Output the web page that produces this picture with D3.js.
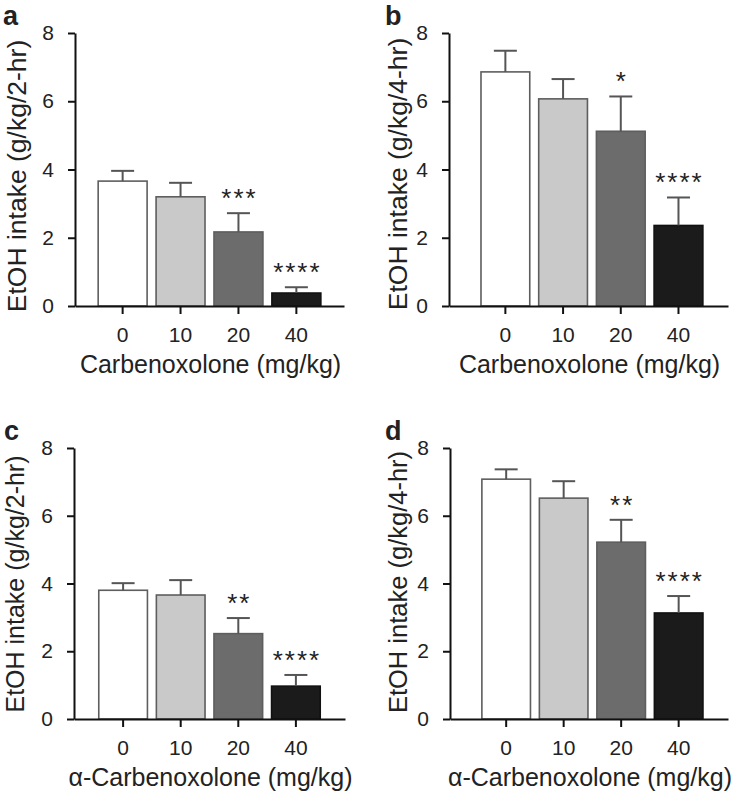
<!DOCTYPE html>
<html>
<head>
<meta charset="utf-8">
<script src="https://cdn.jsdelivr.net/npm/d3@7"></script>
<style>
  body { margin: 0; background: #fff; }
  text { font-family: "Liberation Sans", Arial, Helvetica, sans-serif; fill: #222; }
</style>
</head>
<body>
<div id="chart"></div>
<script>
// doses on the x axis, same for all four panels
var doses = ["0", "10", "20", "40"];
var yTicks = [0, 2, 4, 6, 8];
var barColors = ["#ffffff", "#c9c9c9", "#6c6c6c", "#1b1b1b"];

// means and SEM
var intakeA = [3.66, 3.20, 2.17, 0.38];
var semA    = [0.30, 0.41, 0.55, 0.17];
var starsA  = ["", "", "***", "****"];

var intakeB = [6.86, 6.07, 5.12, 2.36];
var semB    = [0.62, 0.58, 1.02, 0.82];
var starsB  = ["", "", "*", "****"];

var intakeC = [3.80, 3.66, 2.52, 0.97];
var semC    = [0.21, 0.44, 0.46, 0.33];
var starsC  = ["", "", "**", "****"];

var intakeD = [7.08, 6.52, 5.22, 3.13];
var semD    = [0.29, 0.50, 0.66, 0.50];
var starsD  = ["", "", "**", "****"];

var width = 737, height = 797;

var svg = d3.select("#chart")
  .append("svg")
  .attr("width", width)
  .attr("height", height);

// one panel = one small bar chart
function drawPanel(p) {
  var x = d3.scaleBand()
    .domain(doses)
    .range(p.xr)
    .paddingInner(0.155)
    .paddingOuter(p.po)
    .align(p.align);

  var y = d3.scaleLinear()
    .domain([0, 8])
    .range(p.yr);

  var g = svg.append("g");

  // bars
  g.selectAll(".bar")
    .data(p.means)
    .enter()
    .append("rect")
    .attr("x", function(d, i) { return x(doses[i]); })
    .attr("y", function(d) { return y(d); })
    .attr("width", x.bandwidth())
    .attr("height", function(d) { return y(0) - y(d); })
    .attr("fill", function(d, i) { return barColors[i]; })
    .attr("stroke", function(d, i) { return i == 3 ? "#111" : "#5e5e5e"; })
    .attr("stroke-width", 1.6);

  // error bars (upper only)
  var cap = 11.5;
  var err = g.selectAll(".err")
    .data(p.means)
    .enter()
    .append("g")
    .attr("stroke", "#555")
    .attr("stroke-width", 2);
  err.append("line")
    .attr("x1", function(d, i) { return x(doses[i]) + x.bandwidth() / 2; })
    .attr("x2", function(d, i) { return x(doses[i]) + x.bandwidth() / 2; })
    .attr("y1", function(d) { return y(d); })
    .attr("y2", function(d, i) { return y(d + p.sem[i]); });
  err.append("line")
    .attr("x1", function(d, i) { return x(doses[i]) + x.bandwidth() / 2 - cap; })
    .attr("x2", function(d, i) { return x(doses[i]) + x.bandwidth() / 2 + cap; })
    .attr("y1", function(d, i) { return y(d + p.sem[i]); })
    .attr("y2", function(d, i) { return y(d + p.sem[i]); });

  // significance stars
  g.selectAll(".star")
    .data(p.means)
    .enter()
    .append("text")
    .attr("x", function(d, i) { return x(doses[i]) + x.bandwidth() / 2 + 1; })
    .attr("y", function(d, i) { return y(d + p.sem[i]) - 6; })
    .attr("text-anchor", "middle")
    .style("font-size", "26px")
    .style("letter-spacing", "2px")
    .text(function(d, i) { return p.stars[i]; });

  // axes
  var xAxis = g.append("g")
    .attr("transform", "translate(0," + y(0) + ")")
    .call(d3.axisBottom(x).tickSize(8).tickSizeOuter(0).tickPadding(13));
  var yAxis = g.append("g")
    .attr("transform", "translate(" + p.xr[0] + ",0)")
    .call(d3.axisLeft(y).tickValues(yTicks).tickSize(7).tickSizeOuter(0).tickPadding(14));

  [xAxis, yAxis].forEach(function(a) {
    a.select(".domain").attr("stroke", "#111").attr("stroke-width", 2);
    a.selectAll(".tick line").attr("stroke", "#111").attr("stroke-width", 2);
    a.selectAll(".tick text")
      .style("font-size", "21px")
      .style("font-family", "Liberation Sans, Arial, sans-serif")
      .attr("fill", "#222");
  });

  // x title
  g.append("text")
    .attr("x", (p.xr[0] + p.xr[1]) / 2 + 1)
    .attr("y", y(0) + 67)
    .attr("text-anchor", "middle")
    .style("font-size", "25px")
    .text(p.xTitle);

  // y title
  g.append("text")
    .attr("transform", "translate(" + p.yLabX + "," + p.yLabY + ") rotate(-90)")
    .attr("text-anchor", "middle")
    .style("font-size", p.yLabSize + "px")
    .text(p.yTitle);

  // panel letter
  g.append("text")
    .attr("x", p.letterX)
    .attr("y", y(8) - 8)
    .style("font-size", "27px")
    .style("font-weight", "bold")
    .attr("fill", "#000")
    .text(p.letter);
}

drawPanel({ letter: "a", means: intakeA, sem: semA, stars: starsA,
  xr: [75, 344], yr: [306, 33], po: 0.4, align: 0.5,
  xTitle: "Carbenoxolone (mg/kg)", yTitle: "EtOH intake (g/kg/2-hr)",
  yLabX: 26, yLabY: 176, yLabSize: 26.5, letterX: 3 });

drawPanel({ letter: "b", means: intakeB, sem: semB, stars: starsB,
  xr: [449, 728], yr: [306, 33], po: 0.495, align: 0.56,
  xTitle: "Carbenoxolone (mg/kg)", yTitle: "EtOH intake (g/kg/4-hr)",
  yLabX: 407, yLabY: 174, yLabSize: 26.5, letterX: 385 });

drawPanel({ letter: "c", means: intakeC, sem: semC, stars: starsC,
  xr: [74, 345], yr: [719, 448], po: 0.43, align: 0.5,
  xTitle: "\u03b1-Carbenoxolone (mg/kg)", yTitle: "EtOH intake (g/kg/2-hr)",
  yLabX: 24, yLabY: 584, yLabSize: 25, letterX: 4 });

drawPanel({ letter: "d", means: intakeD, sem: semD, stars: starsD,
  xr: [450, 728], yr: [719, 448], po: 0.495, align: 0.56,
  xTitle: "\u03b1-Carbenoxolone (mg/kg)", yTitle: "EtOH intake (g/kg/4-hr)",
  yLabX: 407, yLabY: 582, yLabSize: 25.5, letterX: 385 });
</script>
</body>
</html>
